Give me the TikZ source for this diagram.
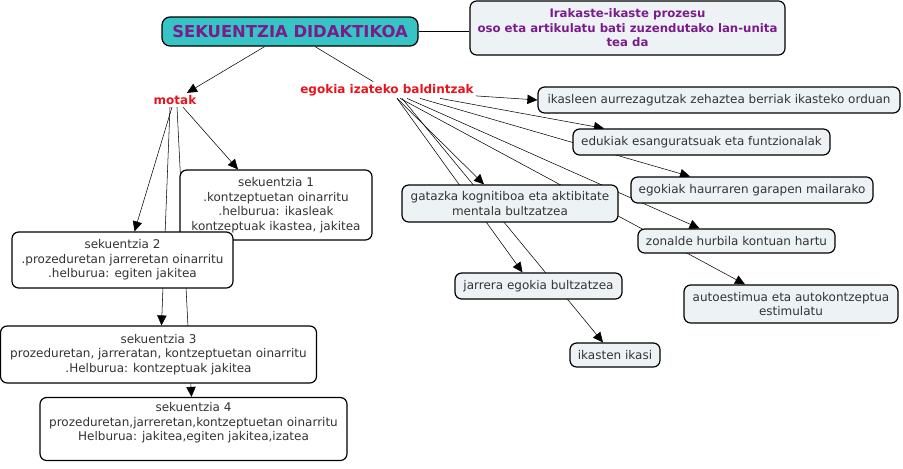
\documentclass[tikz,border=0pt]{standalone}
\usepackage{fontspec}
\setmainfont{DejaVu Sans}
\usetikzlibrary{arrows.meta, positioning, calc, backgrounds}
\definecolor{mapteal}{HTML}{36C4C4}
\definecolor{mappurple}{HTML}{7B1C8C}
\definecolor{mapred}{HTML}{E8141B}
\definecolor{mappale}{HTML}{EDF3F5}
\definecolor{mapink}{HTML}{333333}
\tikzset{
  concept/.style={draw, line width=0.9pt, rounded corners=5pt, fill=mappale,
    text=mapink, align=center, inner sep=1pt},
  seqbox/.style={concept, fill=white},
  linkword/.style={text=mapred, font=\bfseries\fontsize{9}{11}\selectfont,
    inner sep=1.5pt},
  boxdim/.style 2 args={minimum width=#1*0.75pt, minimum height=#2*0.75pt},
  link/.style={-{Triangle[length=7.5pt,width=7pt]}},
}

\begin{document}
\begin{tikzpicture}[x=0.75pt, y=-0.75pt, line width=0.75pt,
    font=\fontsize{9}{10.9}\selectfont]
  \useasboundingbox (0,0) rectangle (903,468);

  % top
  \node[concept, fill=mapteal, rounded corners=6pt, boxdim={256}{29},
    text=mappurple, font=\bfseries\fontsize{12.3}{14}\selectfont]
    (didak) at (290,31.5) {SEKUENTZIA DIDAKTIKOA};
  \node[concept, boxdim={315}{54}, text=mappurple,
    font=\bfseries\fontsize{8.8}{10.9}\selectfont] (defin) at (627.5,28)
    {Irakaste-ikaste prozesu\\oso eta artikulatu bati zuzendutako lan-unita\\tea da};
  \node[linkword] (motak) at (175,100) {motak};
  \node[linkword] (egokia) at (387,90) {egokia izateko baldintzak};

  % motak
  \node[seqbox, boxdim={192}{70}] (sek1) at (276,205)
    {sekuentzia 1\\.kontzeptuetan oinarritu\\.helburua: ikasleak\\kontzeptuak ikastea, jakitea};
  \node[seqbox, boxdim={221}{56}] (sek2) at (122.5,260)
    {sekuentzia 2\\.prozeduretan jarreretan oinarritu\\.helburua: egiten jakitea};
  \node[seqbox, boxdim={316}{57}] (sek3) at (158.5,354.5)
    {sekuentzia 3\\prozeduretan, jarreratan, kontzeptuetan oinarritu\\.Helburua: kontzeptuak jakitea};
  \node[seqbox, boxdim={307}{63}] (sek4) at (193.5,429)
    {sekuentzia 4\\prozeduretan,jarreretan,kontzeptuetan oinarritu\\Helburua: jakitea,egiten jakitea,izatea\\~};

  % baldintzak
  \node[concept, boxdim={362}{26}] (ikasleen) at (719,100)
    {ikasleen aurrezagutzak zehaztea berriak ikasteko orduan};
  \node[concept, boxdim={257}{26}] (edukiak) at (701.5,142)
    {edukiak esanguratsuak eta funtzionalak};
  \node[concept, boxdim={242}{26}] (haurra) at (752,190)
    {egokiak haurraren garapen mailarako};
  \node[concept, boxdim={197}{24}] (zonalde) at (736.5,241)
    {zonalde hurbila kontuan hartu};
  \node[concept, boxdim={214}{38}] (autoest) at (791,304)
    {autoestimua eta autokontzeptua\\estimulatu};
  \node[concept, boxdim={216}{37}] (gatazka) at (510,203.5)
    {gatazka kognitiboa eta aktibitate\\mentala bultzatzea};
  \node[concept, boxdim={167}{26}] (jarrera) at (538.5,286)
    {jarrera egokia bultzatzea};
  \node[concept, boxdim={90}{24}] (ikasten) at (615,355)
    {ikasten ikasi};

  \begin{scope}[on background layer]
    \draw (didak) -- (defin.west |- didak.east);
    \draw[link] (didak) -- (motak);
    \draw (didak) -- (egokia);
    % motak -> sekuentziak
    \draw[link] ($(motak.south)+(8,0)$) -- ($(sek1.north)+(-38,0)$);
    \draw[link] ($(motak.south)+(-3,0)$) -- ($(sek2.north)+(12,0)$);
    \draw[link] ($(motak.south)+(-5,0)$) -- ($(sek3.north)+(3,0)$);
    \draw[link] ($(motak.south)+(2,0)$) -- ($(sek4.north)+(-2,0)$);
    % egokia -> baldintzak
    \draw[link] (egokia) -- (ikasleen.west);
    \draw[link] ($(egokia.south)+(53,0)$) -- ($(edukiak.north)+(-97.5,0)$);
    \draw[link] ($(egokia.south)+(33,0)$) -- ($(haurra.north)+(-62,0)$);
    \draw[link] ($(egokia.south)+(20,0)$) -- ($(zonalde.north)+(-37,0)$);
    \draw[link] ($(egokia.south)+(13,0)$) -- ($(autoest.north)+(-46,0)$);
    \draw[link] ($(egokia.south)+(10,0)$) -- ($(gatazka.north)+(-26,0)$);
    \draw[link] ($(egokia.south)+(10,0)$) -- ($(jarrera.north)+(-16,0)$);
    \draw[link] ($(egokia.south)+(15,0)$) -- ($(ikasten.north)+(-12,0)$);
  \end{scope}
\end{tikzpicture}
\end{document}
